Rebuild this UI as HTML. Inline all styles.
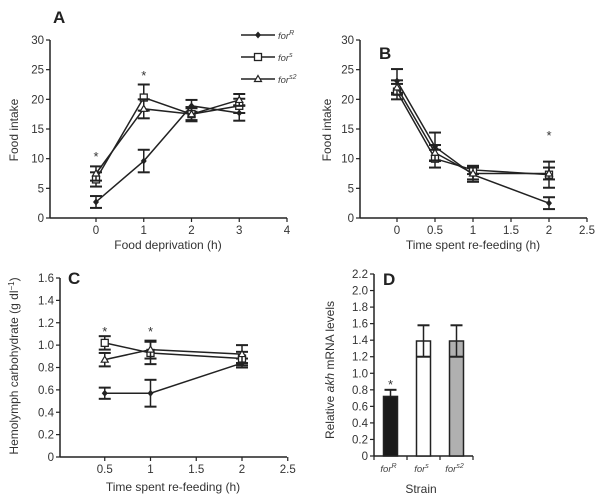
<!DOCTYPE html>
<html><head><meta charset="utf-8"><style>
html,body{margin:0;padding:0;background:#fff;}
svg{display:block;font-family:"Liberation Sans",sans-serif;}
</style></head><body>
<svg id="fig" width="600" height="500" viewBox="0 0 600 500" xmlns="http://www.w3.org/2000/svg"></svg>
<script>
// Panel A data
const aX = [0, 1, 2, 3];
const aForR = [2.7, 9.6, 18.9, 17.7];
const aForRErr = [1.0, 1.9, 1.0, 1.3];
const aForS = [6.5, 20.3, 17.5, 18.9];
const aForSErr = [1.2, 2.2, 1.2, 1.2];
const aForS2 = [7.5, 18.4, 17.5, 19.9];
const aForS2Err = [1.2, 1.6, 1.0, 1.0];
const aXTicks = [0, 1, 2, 3, 4];
const aYTicks = [0, 5, 10, 15, 20, 25, 30];
const aStars = [0, 1];
// Panel B data
const bX = [0, 0.5, 1, 2];
const bForR = [23.1, 12.0, 7.3, 2.5];
const bForRErr = [2.0, 2.4, 1.2, 1.0];
const bForS = [21.3, 10.0, 8.1, 7.3];
const bForSErr = [1.3, 1.5, 0.7, 2.2];
const bForS2 = [22.0, 11.0, 7.5, 7.5];
const bForS2Err = [1.2, 1.3, 1.0, 1.0];
const bXTicks = [0, 0.5, 1, 1.5, 2, 2.5];
const bYTicks = [0, 5, 10, 15, 20, 25, 30];
const bStars = [2];
// Panel C data
const cX = [0.5, 1, 2];
const cForR = [0.57, 0.57, 0.84];
const cForRErr = [0.05, 0.12, 0.04];
const cForS = [1.02, 0.93, 0.88];
const cForSErr = [0.06, 0.10, 0.06];
const cForS2 = [0.87, 0.96, 0.92];
const cForS2Err = [0.06, 0.08, 0.08];
const cXTicks = [0.5, 1, 1.5, 2, 2.5];
const cYTicks = [0, 0.2, 0.4, 0.6, 0.8, 1.0, 1.2, 1.4, 1.6];
const cStars = [0.5, 1];
// Panel D data
const dCats = ["R", "s", "s2"];
const dVals = [0.72, 1.39, 1.39];
const dErr = [0.08, 0.19, 0.19];
const dYTicks = [0, 0.2, 0.4, 0.6, 0.8, 1.0, 1.2, 1.4, 1.6, 1.8, 2.0, 2.2];

const NS = "http://www.w3.org/2000/svg";
const svg = document.getElementById("fig");
function mk(tag, attrs, parent) {
  const e = document.createElementNS(NS, tag);
  for (const k in attrs) e.setAttribute(k, attrs[k]);
  (parent || svg).appendChild(e);
  return e;
}
function txt(s, attrs, parent) { const t = mk("text", attrs, parent); t.textContent = s; return t; }
function fmt(v, dec) { return dec ? v.toFixed(1) : String(v); }

function axes(cfg) {
  const g = mk("g", {});
  
  
  mk("line", {x1: cfg.x0, y1: cfg.yb, x2: cfg.x0, y2: cfg.yt, stroke: "#222", "stroke-width": 1.5}, g);
  mk("line", {x1: cfg.x0, y1: cfg.yb, x2: cfg.x1, y2: cfg.yb, stroke: "#222", "stroke-width": 1.5}, g);
  cfg.yTicks.forEach(v => {
    const y = cfg.sy(v);
    mk("line", {x1: cfg.x0 - 4, y1: y, x2: cfg.x0, y2: y, stroke: "#222", "stroke-width": 1.2}, g);
    const t = txt(fmt(v, cfg.yDec && v !== 0), {x: cfg.x0 - 6, y: y + 4, "font-size": 11.5, fill: "#333", "text-anchor": "end"}, g);
    
    
  });
  (cfg.xTicks || []).forEach(v => {
    const x = cfg.sx(v);
    mk("line", {x1: x, y1: cfg.yb, x2: x, y2: cfg.yb + 4, stroke: "#222", "stroke-width": 1.2}, g);
    const t = txt(String(v), {x: x, y: cfg.yb + 16, "font-size": 11.5, fill: "#333", "text-anchor": "middle"}, g);
    
    
  });
  return g;
}

function series(name, xs, ys, es, sx, sy, marker) {
  const g = mk("g", {});
  
  
  mk("polyline", {points: xs.map((x, i) => sx(x) + "," + sy(ys[i])).join(" "), fill: "none", stroke: "#222", "stroke-width": 1.5}, g);
  xs.forEach((x, i) => {
    const px = sx(x), py = sy(ys[i]), t = sy(ys[i] + es[i]), b = sy(ys[i] - es[i]);
    mk("line", {x1: px, y1: t, x2: px, y2: b, stroke: "#222", "stroke-width": 1.5}, g);
    mk("line", {x1: px - 6, y1: t, x2: px + 6, y2: t, stroke: "#222", "stroke-width": 2}, g);
    mk("line", {x1: px - 6, y1: b, x2: px + 6, y2: b, stroke: "#222", "stroke-width": 2}, g);
    drawMarker(marker, px, py, g);
  });
}
function drawMarker(m, px, py, g) {
  if (m === "diamond") mk("polygon", {points: `${px},${py-3.5} ${px+3},${py} ${px},${py+3.5} ${px-3},${py}`, fill: "#222"}, g);
  else if (m === "square") mk("rect", {x: px - 3.5, y: py - 3.5, width: 7, height: 7, fill: "#fff", stroke: "#222", "stroke-width": 1.3}, g);
  else mk("polygon", {points: `${px},${py-3.5} ${px+3.5},${py+2.5} ${px-3.5},${py+2.5}`, fill: "#fff", stroke: "#222", "stroke-width": 1.2}, g);
}
function star(x, y) {
  const t = txt("*", {x: x, y: y, "font-size": 13, fill: "#333", "text-anchor": "middle"});
  
  
}
function label(s, x, y, name, extra) {
  const t = txt(s, Object.assign({x: x, y: y, "font-size": 12, fill: "#333", "text-anchor": "middle"}, extra || {}));
  
  
  return t;
}
function panelLetter(s, x, y) {
  const t = txt(s, {x: x, y: y, "font-size": 17, "font-weight": "bold", fill: "#222"});
  
  
}

// ---- Panel A ----
{
  const x0 = 50, x1 = 287, yb = 218, yt = 40;
  const sx = v => 96 + v * 47.75, sy = v => yb - v / 30 * (yb - yt);
  axes({name: "panel-a", x0, x1, yb, yt, sx, sy, xTicks: aXTicks, yTicks: aYTicks});
  series("panel-a-series-forR", aX, aForR, aForRErr, sx, sy, "diamond");
  series("panel-a-series-forS", aX, aForS, aForSErr, sx, sy, "square");
  series("panel-a-series-forS2", aX, aForS2, aForS2Err, sx, sy, "triangle");
  aStars.forEach((x, i) => star(sx(x), x === 0 ? 161 : 80));
  panelLetter("A", 53, 23);
  label("Food deprivation (h)", 168, 249, "panel-a-x-axis-title");
  label("Food intake", 18, 130, "panel-a-y-axis-title", {transform: "rotate(-90 18 130)"});
  const leg = mk("g", {});
  
  
  const names = [["R", "diamond", 35], ["s", "square", 57], ["s2", "triangle", 79]];
  names.forEach(([sup, m, y]) => {
    const e = mk("g", {}, leg);
    
    
    mk("line", {x1: 241, y1: y, x2: 275, y2: y, stroke: "#222", "stroke-width": 1.5}, e);
    drawMarker(m, 258, y, e);
    const t = txt("", {x: 278, y: y + 4, "font-size": 9.5, "font-style": "italic", fill: "#444"}, e);
    const a = mk("tspan", {}, t); a.textContent = "for";
    const b = mk("tspan", {dy: -4, "font-size": 7}, t); b.textContent = sup;
  });
}
// ---- Panel B ----
{
  const x0 = 360, x1 = 587, yb = 218, yt = 40;
  const sx = v => 397 + v * 76, sy = v => yb - v / 30 * (yb - yt);
  axes({name: "panel-b", x0, x1, yb, yt, sx, sy, xTicks: bXTicks, yTicks: bYTicks});
  series("panel-b-series-forR", bX, bForR, bForRErr, sx, sy, "diamond");
  series("panel-b-series-forS", bX, bForS, bForSErr, sx, sy, "square");
  series("panel-b-series-forS2", bX, bForS2, bForS2Err, sx, sy, "triangle");
  bStars.forEach(x => star(sx(x), 140));
  panelLetter("B", 379, 59);
  label("Time spent re-feeding (h)", 473, 249, "panel-b-x-axis-title");
  label("Food intake", 331, 130, "panel-b-y-axis-title", {transform: "rotate(-90 331 130)"});
}
// ---- Panel C ----
{
  const x0 = 60, x1 = 287, yb = 457, yt = 278;
  const sx = v => 59 + v * 91.5, sy = v => yb - v / 1.6 * (yb - yt);
  axes({name: "panel-c", x0, x1, yb, yt, sx, sy, xTicks: cXTicks, yTicks: cYTicks, yDec: true});
  series("panel-c-series-forR", cX, cForR, cForRErr, sx, sy, "diamond");
  series("panel-c-series-forS", cX, cForS, cForSErr, sx, sy, "square");
  series("panel-c-series-forS2", cX, cForS2, cForS2Err, sx, sy, "triangle");
  cStars.forEach(x => star(sx(x), 336));
  panelLetter("C", 68, 284);
  label("Time spent re-feeding (h)", 173, 491, "panel-c-x-axis-title");
  const t = label("", 18, 366, "panel-c-y-axis-title", {transform: "rotate(-90 18 366)"});
  t.textContent = "Hemolymph carbohydrate (g dl";
  const s = mk("tspan", {dy: -4, "font-size": 8}, t); s.textContent = "−1";
  const s2 = mk("tspan", {dy: 4}, t); s2.textContent = ")";
}
// ---- Panel D ----
{
  const x0 = 374, x1 = 473, yb = 456, yt = 274;
  const band = (x1 - x0) / dCats.length;
  const sx = i => x0 + band * (i + 0.5), sy = v => yb - v / 2.2 * (yb - yt);
  axes({name: "panel-d", x0, x1, yb, yt, sx, sy, xTicks: [], yTicks: dYTicks, yDec: true});
  const fills = ["#1a1a1a", "#fff", "#b0b0b0"];
  for (let i = 0; i <= dCats.length; i++) {
    const x = x0 + band * i;
    mk("line", {x1: x, y1: yb, x2: x, y2: yb + 4, stroke: "#222", "stroke-width": 1.2});
  }
  dCats.forEach((c, i) => {
    const cx = sx(i), w = 14, top = sy(dVals[i]);
    const bar = mk("rect", {x: cx - w / 2, y: top, width: w, height: yb - top, fill: fills[i], stroke: "#222", "stroke-width": 1.5});
    
    
    const et = sy(dVals[i] + dErr[i]);
    const eb = i === 0 ? top : sy(dVals[i] - dErr[i]);
    mk("line", {x1: cx, y1: et, x2: cx, y2: eb, stroke: "#222", "stroke-width": 1.5});
    mk("line", {x1: cx - 6, y1: et, x2: cx + 6, y2: et, stroke: "#222", "stroke-width": 2});
    if (i !== 0) mk("line", {x1: cx - 7, y1: eb, x2: cx + 7, y2: eb, stroke: "#222", "stroke-width": 2});
    const t = txt("", {x: cx - 2, y: 472, "font-size": 9.5, "font-style": "italic", fill: "#444", "text-anchor": "middle"});
    
    
    const a = mk("tspan", {}, t); a.textContent = "for";
    const b = mk("tspan", {dy: -4, "font-size": 7}, t); b.textContent = c;
  });
  star(sx(0), sy(dVals[0] + dErr[0]) - 1);
  panelLetter("D", 383, 285);
  label("Strain", 421, 493, "panel-d-x-axis-title");
  const t = label("", 334, 370, "panel-d-y-axis-title", {transform: "rotate(-90 334 370)"});
  t.textContent = "Relative ";
  const it = mk("tspan", {"font-style": "italic"}, t); it.textContent = "akh";
  const r = mk("tspan", {}, t); r.textContent = " mRNA levels";
}
</script>
</body></html>
